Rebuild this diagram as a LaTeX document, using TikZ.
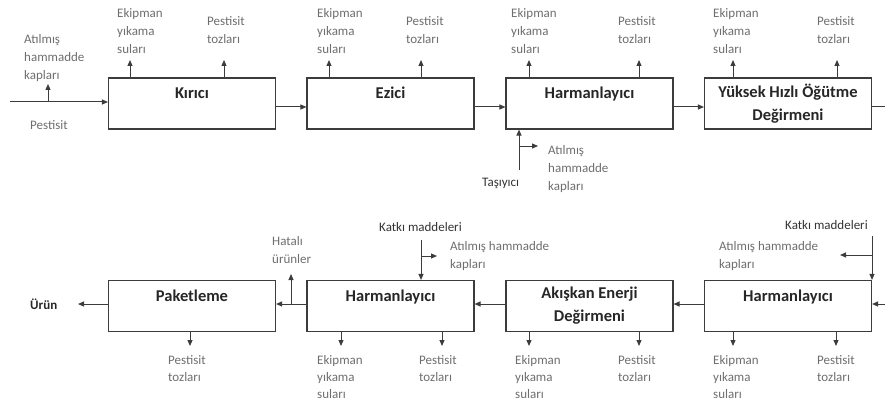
\documentclass[tikz,border=0pt]{standalone}
\usepackage{fontspec}
\setmainfont{Carlito}
\usetikzlibrary{arrows.meta}
\definecolor{linegray}{HTML}{3C3C3C}
\definecolor{labelgray}{HTML}{6E6E6E}

\begin{document}
\begin{tikzpicture}[x=1pt, y=-1pt, >={Triangle[length=6pt,width=5pt]},
  box/.style={draw=linegray, line width=1.1pt, minimum width=167pt, minimum height=51pt, inner sep=0pt, align=center, text=black!85, font=\fontsize{16.5}{23}\selectfont\bfseries},
  onebox/.style={box, text height=10pt, text depth=19pt},
  lbl/.style={anchor=north west, inner sep=0pt, align=left, text=labelgray, font=\fontsize{13}{18}\selectfont},
  lowlbl/.style={lbl, font=\fontsize{13}{17}\selectfont},
  dark/.style={lbl, text=black!80},
  flow/.style={draw=linegray, line width=1pt, ->},
  plain/.style={draw=linegray, line width=1pt}]
\useasboundingbox (0,0) rectangle (885,401);

% process boxes
\node[onebox] (kir) at (192,103.5) {Kırıcı};
\node[onebox] (ezi) at (390.5,103.5) {Ezici};
\node[onebox] (har1) at (589.5,103.5) {Harmanlayıcı};
\node[box] (yuk) at (788,103.5) {Yüksek Hızlı Öğütme\\Değirmeni};
\node[onebox] (pak) at (192,306) {Paketleme};
\node[onebox] (har2) at (390.5,306) {Harmanlayıcı};
\node[box] (aki) at (589.5,306) {Akışkan Enerji\\Değirmeni};
\node[onebox] (har3) at (788,306) {Harmanlayıcı};

% top row labels
\node[lbl] (atk1) at (24,34) {Atılmış\\hammadde\\kapları};
\node[lbl] (pes0) at (30,120) {Pestisit};
\node[lbl] (kirE) at (117,8) {Ekipman\\yıkama\\suları};
\node[lbl] (kirP) at (207,16) {Pestisit\\tozları};
\node[lbl] (eziE) at (317,8) {Ekipman\\yıkama\\suları};
\node[lbl] (eziP) at (406,16) {Pestisit\\tozları};
\node[lbl] (harE) at (511,8) {Ekipman\\yıkama\\suları};
\node[lbl] (harP) at (618,16) {Pestisit\\tozları};
\node[lbl] (yukE) at (713,8) {Ekipman\\yıkama\\suları};
\node[lbl] (yukP) at (817,16) {Pestisit\\tozları};
\node[lbl] (atk4) at (548,145) {Atılmış\\hammadde\\kapları};
\node[dark] (tas) at (482,178) {Taşıyıcı};

% bottom row labels
\node[anchor=west, inner sep=0pt, text=black!85, font=\fontsize{13}{18}\selectfont\bfseries] (urun) at (30,304) {Ürün};
\node[lbl] (hat) at (272,236) {Hatalı\\ürünler};
\node[dark] (kat2) at (379,222) {Katkı maddeleri};
\node[lbl] (atk2) at (450,241) {Atılmış hammadde\\kapları};
\node[dark] (kat3) at (785,220) {Katkı maddeleri};
\node[lbl] (atk3) at (719,241) {Atılmış hammadde\\kapları};
\node[lowlbl] (pakP) at (168,355) {Pestisit\\tozları};
\node[lowlbl] (h2E) at (317,355) {Ekipman\\yıkama\\suları};
\node[lowlbl] (h2P) at (419,355) {Pestisit\\tozları};
\node[lowlbl] (akiE) at (515,355) {Ekipman\\yıkama\\suları};
\node[lowlbl] (akiP) at (618,355) {Pestisit\\tozları};
\node[lowlbl] (h3E) at (713,355) {Ekipman\\yıkama\\suları};
\node[lowlbl] (h3P) at (817,355) {Pestisit\\tozları};

% main flow
\coordinate (src) at (10,102);
\coordinate (srcJ) at (48,102);
\coordinate (srcA) at (48,84);
\draw[flow] (src) -- (src -| kir.west);
\draw[flow] (srcJ) -- (srcA);
\draw[flow] ([yshift=-3.5pt]kir.east) -- ([yshift=-3.5pt]ezi.west);
\draw[flow] ([yshift=-3.5pt]ezi.east) -- ([yshift=-3.5pt]har1.west);
\draw[flow] ([yshift=-3.5pt]har1.east) -- ([yshift=-3.5pt]yuk.west);
\coordinate (outR) at (885,107);
\draw[plain] ([yshift=-3.5pt]yuk.east) -- (outR);
\coordinate (inR) at (885,304);
\draw[flow] (inR) -- (inR -| har3.east);
\draw[flow] ([yshift=2pt]har3.west) -- ([yshift=2pt]aki.east);
\draw[flow] ([yshift=2pt]aki.west) -- ([yshift=2pt]har2.east);
\draw[flow] ([yshift=2pt]har2.west) -- ([yshift=2pt]pak.east);
\coordinate (urA) at (78,304);
\draw[flow] ([yshift=2pt]pak.west) -- (urA);

% side streams
\foreach \b/\x in {kir/130, kir/224, ezi/329, ezi/421, har1/529, har1/639, yuk/733, yuk/837} {
  \coordinate (up-\x) at (\x,60);
  \draw[flow] (\b.north -| up-\x) -- (up-\x);
}
\foreach \b/\x in {pak/190, har2/341, har2/442, aki/529, aki/639, har3/733, har3/836} {
  \coordinate (dn-\x) at (\x,346);
  \draw[flow] (\b.south -| dn-\x) -- (dn-\x);
}
\coordinate (tasS) at (519,170);
\coordinate (tasJ) at (519,146);
\coordinate (tasA) at (538,146);
\draw[flow] (tasS) -- (tasS |- har1.south);
\draw[flow] (tasJ) -- (tasA);
\coordinate (hatJ) at (291,304);
\coordinate (hatA) at (291,274);
\draw[flow] (hatJ) -- (hatA);
\coordinate (kat2S) at (421,240);
\coordinate (kat2J) at (421,256);
\coordinate (kat2A) at (437,256);
\draw[flow] (kat2S) -- (kat2S |- har2.north);
\draw[flow] (kat2J) -- (kat2A);
\coordinate (kat3S) at (872,236);
\coordinate (kat3J) at (872,255);
\coordinate (kat3A) at (840,255);
\draw[flow] (kat3S) -- (kat3S |- har3.north);
\draw[flow] (kat3J) -- (kat3A);
\end{tikzpicture}
\end{document}
